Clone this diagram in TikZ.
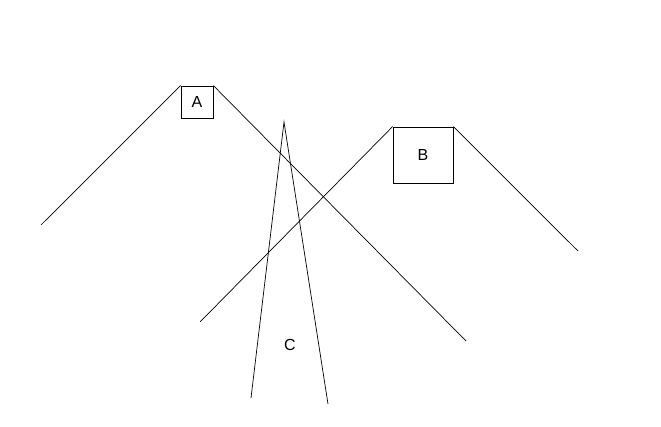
\documentclass[tikz,border=0pt]{standalone}
\usepackage{fontspec}
\setmainfont{Liberation Sans}
\begin{document}
\begin{tikzpicture}[x=1pt,y=-1pt,
  lbl/.style={font=\fontsize{16}{18}\selectfont},
  box/.style={draw,line width=0.8pt,inner sep=0pt,lbl},
  ln/.style={line width=0.7pt}]
\useasboundingbox (0,0) rectangle (661,427);
\fill[white] (0,0) rectangle (661,427);
\node[box,minimum width=32pt,minimum height=32pt] (A) at (197,102) {A};
\node[box,minimum width=60pt,minimum height=56pt] (B) at (423,155) {B};
\coordinate (a1) at (41,225);
\coordinate (a2) at (466,341);
\coordinate (b1) at (200,322);
\coordinate (b2) at (578,251);
\coordinate (ctop) at (284,122);
\coordinate (cl) at (251,398);
\coordinate (cr) at (328,404);
\node[lbl] (C) at (290,345) {C};
\draw[ln] (A.north west) -- (a1);
\draw[ln] (A.north east) -- (a2);
\draw[ln] (B.north west) -- (b1);
\draw[ln] (B.north east) -- (b2);
\draw[ln] (cl) -- (ctop) -- (cr);
\end{tikzpicture}
\end{document}
